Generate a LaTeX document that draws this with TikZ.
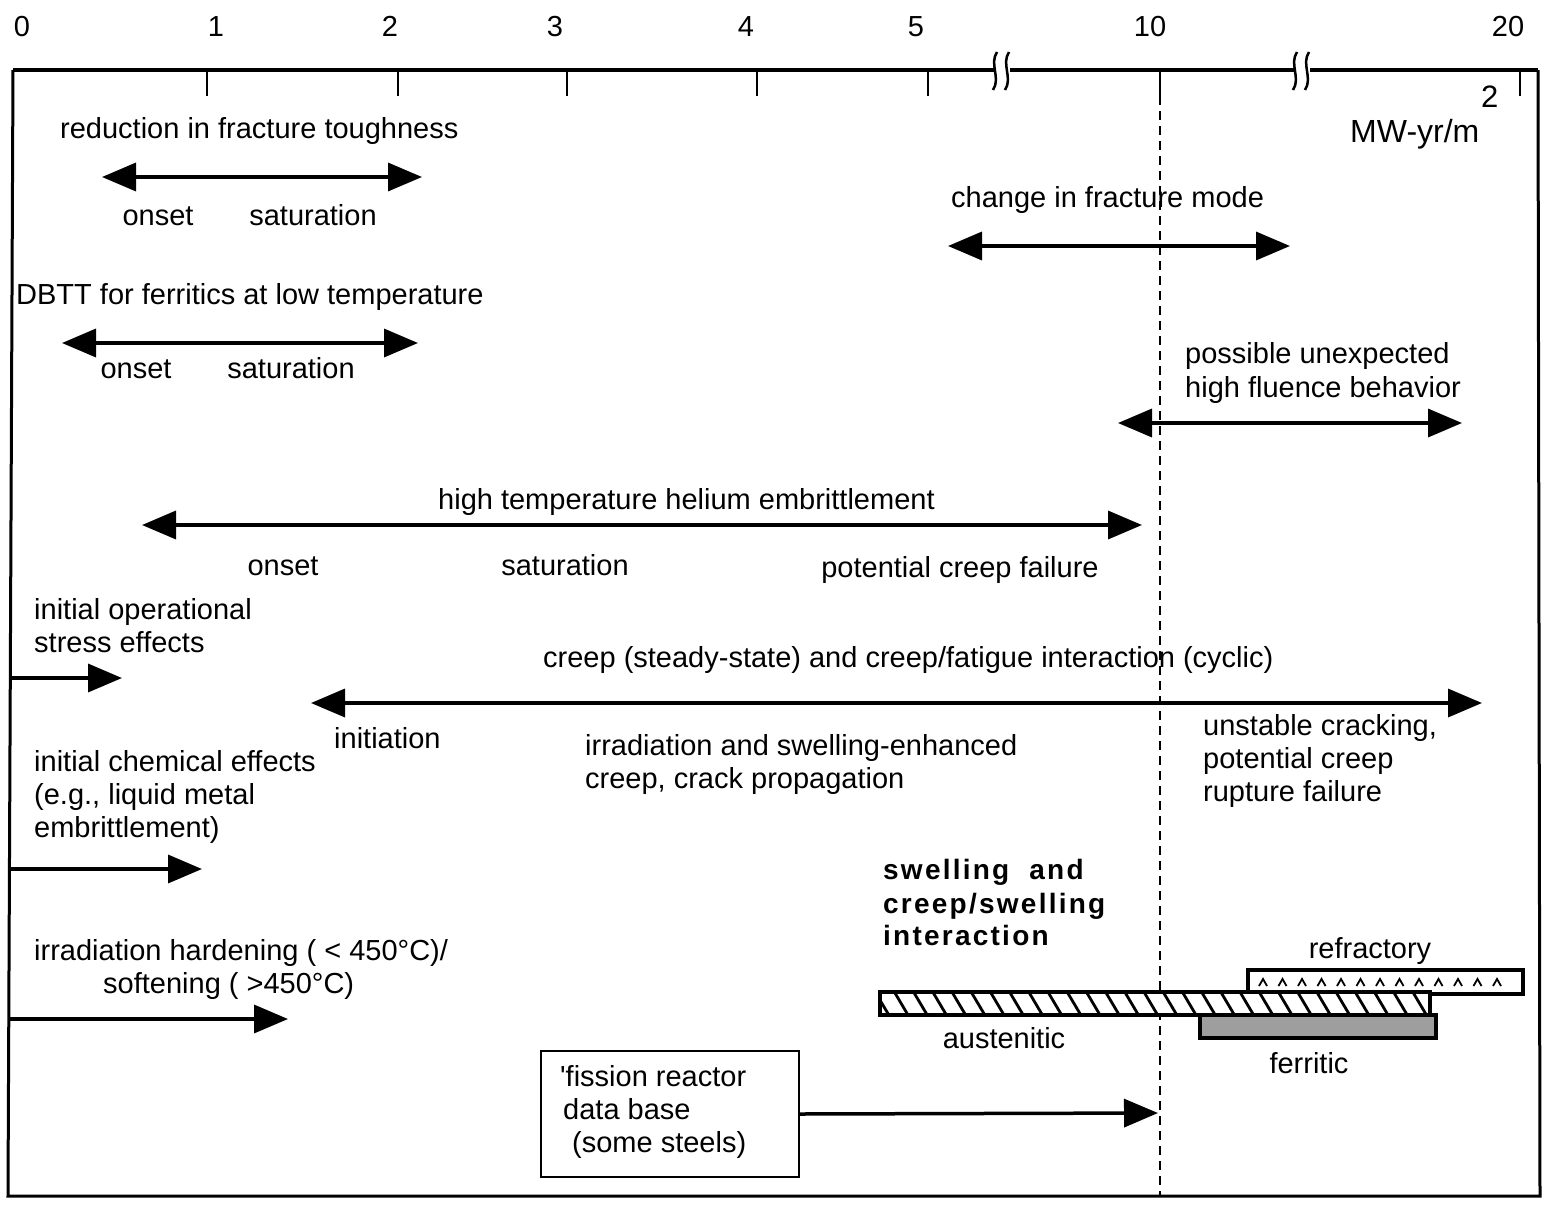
\documentclass[tikz,border=0pt]{standalone}
\usepackage{fontspec}
\setmainfont{Liberation Sans}
\usetikzlibrary{arrows.meta}
\begin{document}
\begin{tikzpicture}[x=1pt,y=-1pt,
  lbl/.style={font=\fontsize{29}{34}\selectfont, inner sep=0pt, anchor=base west},
  lblc/.style={font=\fontsize{29}{34}\selectfont, inner sep=0pt, anchor=base},
  bld/.style={font=\fontsize{28}{34}\selectfont\bfseries\addfontfeatures{LetterSpace=8}, inner sep=0pt, anchor=base west},
  arr/.style={line width=3.5pt, -{Triangle[length=34pt,width=28pt]}},
  darr/.style={line width=3.5pt, {Triangle[length=34pt,width=28pt]}-{Triangle[length=34pt,width=28pt]}},
  frame/.style={line width=3pt},
  tick/.style={line width=2.2pt},
  bar/.style={line width=3.5pt},
]
\useasboundingbox (0,0) rectangle (1545,1205);
\fill[white] (0,0) rectangle (1545,1205);

% frame and axis
\draw[frame] (1538,70) -- (1540,1196) -- (8,1196) -- (13,70);
\draw[line width=4.5pt] (13,70) -- (994,70);
\draw[line width=4.5pt] (1010,70) -- (1294,70);
\draw[line width=4.5pt] (1310,70) -- (1538,70);
\foreach \bx in {994,1006,1294,1306}
  \draw[line width=2.5pt] (\bx+3,52) .. controls (\bx-5,64) and (\bx+7,78) .. (\bx-1,90);

\foreach \tx in {207,398,567,757,928,1160,1520}
  \draw[tick] (\tx,70) -- (\tx,96);

\node[lblc] (t0) at (22,36) {0};
\node[lblc] (t1) at (216,36) {1};
\node[lblc] (t2) at (390,36) {2};
\node[lblc] (t3) at (555,36) {3};
\node[lblc] (t4) at (746,36) {4};
\node[lblc] (t5) at (916,36) {5};
\node[lblc] (t10) at (1150,36) {10};
\node[lblc] (t20) at (1508,36) {20};

\node[lbl, font=\fontsize{32}{36}\selectfont] (unit) at (1350,142) {MW-yr/m};
\node[lbl, font=\fontsize{31}{36}\selectfont] (unit2) at (1481,107) {2};

% dashed line at 10
\coordinate (dtop) at (1160,96);
\coordinate (dbot) at (1160,1195);
\draw[line width=2pt, dash pattern=on 9pt off 6pt] (dtop) -- (dbot);

% reduction in fracture toughness
\node[lbl] (rft) at (60,138) {reduction in fracture toughness};
\coordinate (a1l) at (102,177); \coordinate (a1r) at (422,177);
\draw[darr] (a1l) -- (a1r);
\node[lblc] (on1) at (158,225) {onset};
\node[lblc] (sa1) at (313,225) {saturation};

% change in fracture mode
\node[lbl] (cfm) at (951,207) {change in fracture mode};
\coordinate (a2l) at (948,246); \coordinate (a2r) at (1290,246);
\draw[darr] (a2l) -- (a2r);

% DBTT
\node[lbl] (dbtt) at (16,304) {DBTT for ferritics at low temperature};
\coordinate (a3l) at (62,343); \coordinate (a3r) at (418,343);
\draw[darr] (a3l) -- (a3r);
\node[lblc] (on2) at (136,378) {onset};
\node[lblc] (sa2) at (291,378) {saturation};

% possible unexpected
\node[lbl] (pu1) at (1185,363) {possible unexpected};
\node[lbl] (pu2) at (1185,397) {high fluence behavior};
\coordinate (a4l) at (1118,423); \coordinate (a4r) at (1462,423);
\draw[darr] (a4l) -- (a4r);

% helium embrittlement
\node[lbl] (hte) at (438,509) {high temperature helium embrittlement};
\coordinate (a5l) at (142,525); \coordinate (a5r) at (1142,525);
\draw[darr] (a5l) -- (a5r);
\node[lblc] (on3) at (283,575) {onset};
\node[lblc] (sa3) at (565,575) {saturation};
\node[lblc] (pcf) at (960,577) {potential creep failure};

% initial operational stress
\node[lbl] (ios1) at (34,619) {initial operational};
\node[lbl] (ios2) at (34,652) {stress effects};
\coordinate (a6l) at (10,678); \coordinate (a6r) at (122,678);
\draw[arr] (a6l) -- (a6r);

% creep
\node[lbl] (creep) at (543,667) {creep (steady-state) and creep/fatigue interaction (cyclic)};
\coordinate (a7l) at (311,703); \coordinate (a7r) at (1482,703);
\draw[darr] (a7l) -- (a7r);
\node[lbl] (init) at (334,748) {initiation};
\node[lbl] (isc1) at (585,755) {irradiation and swelling-enhanced};
\node[lbl] (isc2) at (585,788) {creep, crack propagation};
\node[lbl] (uc1) at (1203,735) {unstable cracking,};
\node[lbl] (uc2) at (1203,768) {potential creep};
\node[lbl] (uc3) at (1203,801) {rupture failure};

% chemical effects
\node[lbl] (ice1) at (34,771) {initial chemical effects};
\node[lbl] (ice2) at (34,804) {(e.g., liquid metal};
\node[lbl] (ice3) at (34,837) {embrittlement)};
\coordinate (a8l) at (10,869); \coordinate (a8r) at (202,869);
\draw[arr] (a8l) -- (a8r);

% hardening
\node[lbl] (ih1) at (34,960) {irradiation hardening ( < 450°C)/};
\node[lbl] (ih2) at (103,993) {softening ( >450°C)};
\coordinate (a9l) at (10,1019); \coordinate (a9r) at (288,1019);
\draw[arr] (a9l) -- (a9r);

% swelling
\node[bld] (sw1) at (883,879) {swelling\ \ and};
\node[bld] (sw2) at (883,913) {creep/swelling};
\node[bld] (sw3) at (883,945) {interaction};

% bars
\node[lblc] (refr) at (1370,958) {refractory};
\draw[bar, fill=white] (1248,970) rectangle (1523,994);
\foreach \k in {0,...,12}
  \draw[line width=1.8pt] ({1259+\k*19.5},986) -- ({1263+\k*19.5},979) -- ({1267+\k*19.5},986);
\begin{scope}
  \clip (880,992) rectangle (1430,1015);
  \fill[white] (880,992) rectangle (1430,1015);
  \foreach \k in {0,...,29}
    \draw[line width=2.8pt] ({874+\k*19.2},990) -- ({890+\k*19.2},1017);
\end{scope}
\draw[bar] (880,992) rectangle (1430,1015);
\draw[bar, fill=black!38] (1200,1015) rectangle (1436,1038);
\node[lblc] (aust) at (1004,1048) {austenitic};
\node[lblc] (ferr) at (1309,1073) {ferritic};

% fission reactor box
\node[draw, line width=2pt, minimum width=258pt, minimum height=126pt, anchor=north west, inner sep=0pt] (fbox) at (540,1050) {};
\node[lbl] (fb1) at (560,1086) {\textquotesingle fission reactor};
\node[lbl] (fb2) at (563,1119) {data base};
\node[lbl] (fb3) at (572,1152) {(some steels)};
\coordinate (fend) at (1158,1113);
\draw[arr] (fbox.east) -- (fend);
\end{tikzpicture}
\end{document}
